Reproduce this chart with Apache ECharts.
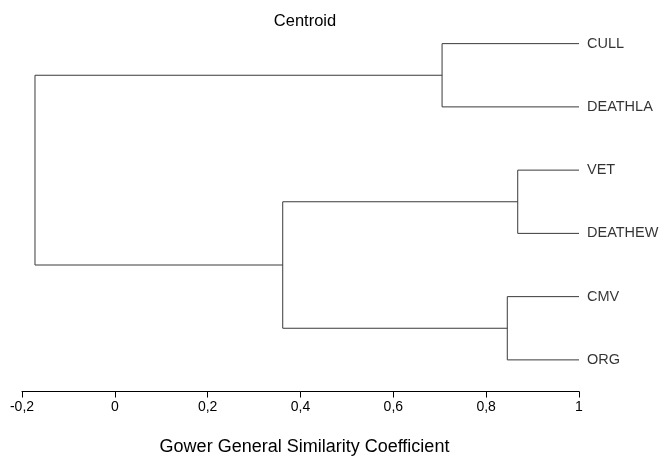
<!DOCTYPE html>
<html><head><meta charset="utf-8">
<script src="https://cdn.jsdelivr.net/npm/echarts@6/dist/echarts.min.js"></script>
<style>html,body{margin:0;padding:0;background:#fff}#c{width:662px;height:459px}</style>
</head><body><div id="c"></div>
<script>
var leaves = ['CULL','DEATHLA','VET','DEATHEW','CMV','ORG'];
var leafHeight = 1;
// merges: [childA, childB, height]; ids 0..5 are leaves, 6+ are merged clusters
var merges = [[0,1,0.705],[2,3,0.868],[4,5,0.8455],[7,8,0.3617],[6,9,-0.172]];
var tickLabels = ['-0,2','0','0,2','0,4','0,6','0,8','1'];

var nodeX = [], nodeY = [];
leaves.forEach(function(l,i){ nodeX[i]=leafHeight; nodeY[i]=i+1; });
var series = [];
merges.forEach(function(m,k){
  var id = leaves.length + k, a=m[0], b=m[1], h=m[2];
  nodeX[id]=h; nodeY[id]=(nodeY[a]+nodeY[b])/2;
  series.push({type:'line', silent:true, symbol:'none', animation:false,
    lineStyle:{color:'#3a3a3a', width:1},
    data:[[nodeX[a],nodeY[a]],[h,nodeY[a]],[h,nodeY[b]],[nodeX[b],nodeY[b]]]});
});
series.push({type:'scatter', symbolSize:0, silent:true, animation:false,
  data: leaves.map(function(l,i){ return {value:[leafHeight,i+1], name:l}; }),
  label:{show:true, position:'right', distance:8, formatter:'{b}', color:'#000',
    fontFamily:'Liberation Sans, Arial', fontSize:14.5}});

var chart = echarts.init(document.getElementById('c'));
chart.setOption({
  backgroundColor:'#fff',
  title:{text:'Centroid', left:300, top:8, textAlign:'center',
    textStyle:{fontFamily:'Liberation Sans, Arial', fontSize:16.5, fontWeight:'normal', color:'#000'}},
  grid:{left:22, right:83, top:12, bottom:67.5, containLabel:false, outerBoundsMode:'none'},
  xAxis:{type:'value', min:-0.2, max:1, interval:0.2,
    name:'Gower General Similarity Coefficient', nameLocation:'middle', nameGap:47,
    nameTextStyle:{fontFamily:'Liberation Sans, Arial', fontSize:18, color:'#000', padding:[0,0,0,8]},
    axisLine:{show:true, onZero:false, lineStyle:{color:'#000', width:1}},
    axisTick:{show:true, length:6, lineStyle:{color:'#000'}},
    splitLine:{show:false},
    axisLabel:{fontFamily:'Liberation Sans, Arial', fontSize:14, color:'#000', margin:9,
      formatter:function(v){ var i=Math.round((v+0.2)/0.2); return tickLabels[i]; }}},
  yAxis:{type:'value', min:0.5, max:6.5, inverse:true, show:false},
  series:series
});
</script></body></html>
